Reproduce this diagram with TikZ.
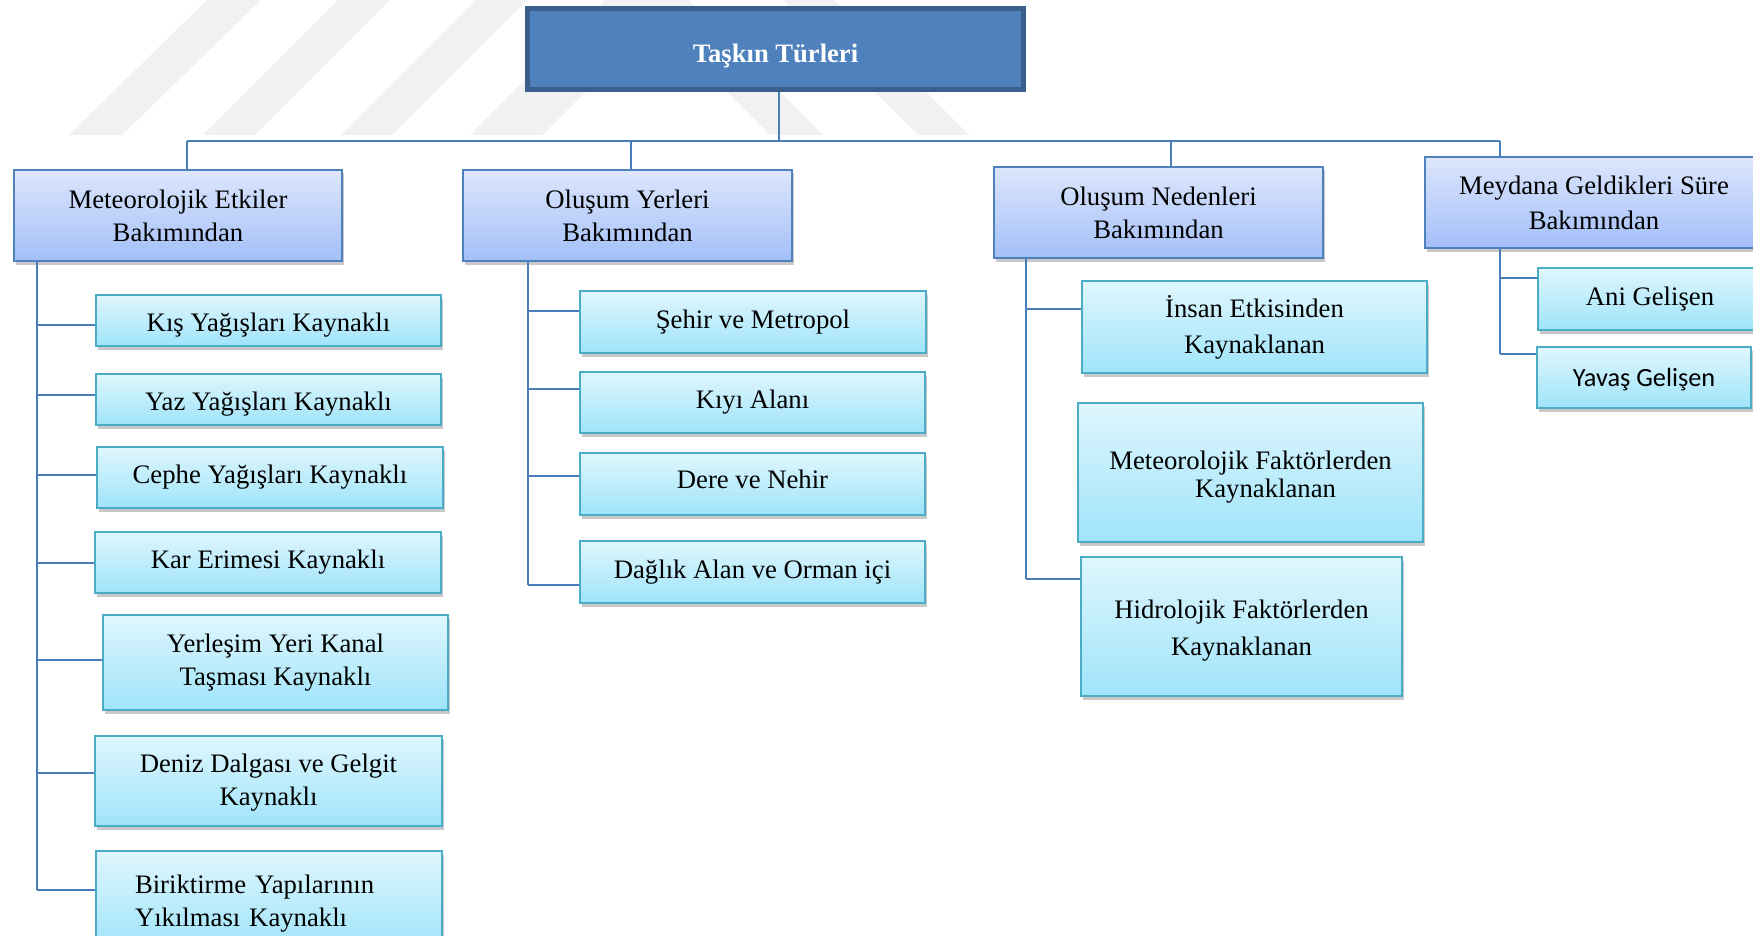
\documentclass[tikz,border=0pt]{standalone}
\usepackage{fontspec}
\setmainfont{Liberation Serif}
\newfontfamily\calibrifont{Carlito}
\usetikzlibrary{shadows}
\definecolor{topfill}{HTML}{4F81BD}
\definecolor{topdraw}{HTML}{3A5F8C}
\definecolor{lAtop}{HTML}{DDE6FC}
\definecolor{lAbot}{HTML}{A3BFF8}
\definecolor{lAdraw}{HTML}{4F81BD}
\definecolor{lBtop}{HTML}{DFF6FD}
\definecolor{lBbot}{HTML}{9FE4FA}
\definecolor{lBdraw}{HTML}{4BACC6}
\definecolor{linec}{HTML}{4A7EBB}
\definecolor{wm}{HTML}{F1F1F1}
\newcommand{\upstrut}[1]{\rule{0pt}{#1}}
\newcommand{\dnstrut}[1]{\rule[-#1]{0pt}{#1}}
\begin{document}
\begin{tikzpicture}[x=1pt,y=-1pt,
 boxbase/.style={rectangle, inner sep=0pt, align=center,
   font=\fontsize{26.7}{33}\selectfont,
   drop shadow={shadow xshift=1.5pt, shadow yshift=-3.5pt, opacity=0.3, fill=black!70}},
 lvA/.style={boxbase, draw=lAdraw, line width=2.2pt, top color=lAtop, bottom color=lAbot},
 lvB/.style={boxbase, draw=lBdraw, line width=2.2pt, top color=lBtop, bottom color=lBbot},
 titlebox/.style={rectangle, inner sep=0pt, draw=topdraw, line width=5pt, fill=topfill, text=white,
   font=\fontsize{26.6}{33}\selectfont\bfseries},
 conn/.style={draw=linec, line width=2pt},
 wmark/.style={fill=wm, draw=none}]
\path[use as bounding box] (0,0) rectangle (1753,936);
\clip (0,0) rectangle (1753,936);
\fill[white] (0,0) rectangle (1753,936);

% watermark stripes
\fill[wmark] (69,135) -- (122,135) -- (261,0) -- (207,0) -- cycle;
\fill[wmark] (203,135) -- (255,135) -- (390,0) -- (338,0) -- cycle;
\fill[wmark] (341,135) -- (392,135) -- (527,0) -- (476,0) -- cycle;
\fill[wmark] (470,135) -- (542,135) -- (677,0) -- (605,0) -- cycle;
\fill[wmark] (770,135) -- (823,135) -- (688,0) -- (635,0) -- cycle;
\fill[wmark] (918,135) -- (969,135) -- (834,0) -- (783,0) -- cycle;

% title
\node[titlebox, minimum width=496pt, minimum height=81pt] (top) at (775.5,49) {\upstrut{33pt}Taşkın Türleri};

% level 1
\node[lvA, minimum width=328pt, minimum height=91pt] (m1) at (178,215.5) {Meteorolojik Etkiler\\Bakımından};
\node[lvA, minimum width=329pt, minimum height=91pt] (m2) at (627.5,215.5) {Oluşum Yerleri\\Bakımından};
\node[lvA, minimum width=329pt, minimum height=91pt] (m3) at (1158.5,212.5) {Oluşum Nedenleri\\Bakımından};
\node[lvA, minimum width=338pt, minimum height=91pt, font=\fontsize{26.7}{35}\selectfont] (m4) at (1594,202.5) {Meydana Geldikleri Süre\\Bakımından};

% column 1
\node[lvB, minimum width=345pt, minimum height=51pt] (k1) at (268.5,320.5) {\upstrut{27pt}Kış Yağışları Kaynaklı};
\node[lvB, minimum width=345pt, minimum height=51pt] (k2) at (268.5,399.5) {\upstrut{27pt}Yaz Yağışları Kaynaklı};
\node[lvB, minimum width=346pt, minimum height=61pt] (k3) at (270,477.5) {Cephe Yağışları Kaynaklı};
\node[lvB, minimum width=346pt, minimum height=61pt] (k4) at (268,562.5) {Kar Erimesi Kaynaklı};
\node[lvB, minimum width=345pt, minimum height=95pt, font=\fontsize{26.7}{33.5}\selectfont] (k5) at (275.5,662.5) {Yerleşim Yeri Kanal\\Taşması Kaynaklı};
\node[lvB, minimum width=347pt, minimum height=90pt, font=\fontsize{26.7}{33.5}\selectfont] (k6) at (268.5,781) {\upstrut{22pt}Deniz Dalgası ve Gelgit\\Kaynaklı};
\node[lvB, minimum width=346pt, minimum height=99pt, text width=268pt, align=left] (k7) at (269,900.5) {\upstrut{24pt}Biriktirme Yapılarının\\Yıkılması Kaynaklı};

% column 2
\node[lvB, minimum width=346pt, minimum height=62pt] (o1) at (753,322) {Şehir ve Metropol};
\node[lvB, minimum width=345pt, minimum height=61pt] (o2) at (752.5,402.5) {Kıyı Alanı};
\node[lvB, minimum width=345pt, minimum height=62pt] (o3) at (752.5,484) {Dere ve Nehir\dnstrut{10pt}};
\node[lvB, minimum width=345pt, minimum height=62pt] (o4) at (752.5,572) {Dağlık Alan ve Orman içi};

% column 3
\node[lvB, minimum width=345pt, minimum height=92pt, font=\fontsize{26.7}{36}\selectfont] (n1) at (1254.5,327) {İnsan Etkisinden\\Kaynaklanan};
\node[lvB, minimum width=345pt, minimum height=139pt, font=\fontsize{26.7}{28}\selectfont] (n2) at (1250.5,472.5) {\upstrut{28pt}Meteorolojik Faktörlerden\\\hspace*{30pt}Kaynaklanan};
\node[lvB, minimum width=321pt, minimum height=139pt, font=\fontsize{26.7}{37}\selectfont] (n3) at (1241.5,626.5) {\upstrut{26pt}Hidrolojik Faktörlerden\\Kaynaklanan};

% column 4
\node[lvB, minimum width=224pt, minimum height=62pt] (a1) at (1650,299) {Ani Gelişen};
\node[lvB, minimum width=214pt, minimum height=61pt, font=\calibrifont\fontsize{26.3}{32}\selectfont] (a2) at (1644,377.5) {\upstrut{23pt}Yavaş Gelişen};

% main bus
\coordinate (hub) at (779,141);
\coordinate (bl) at (187,141);
\coordinate (br) at (1500,141);
\coordinate (d2) at (631,141);
\coordinate (d3) at (1171,141);
\draw[conn] (hub |- top.south) -- (hub);
\draw[conn] (bl) -- (br);
\draw[conn] (bl) -- (bl |- m1.north);
\draw[conn] (d2) -- (d2 |- m2.north);
\draw[conn] (d3) -- (d3 |- m3.north);
\draw[conn] (br) -- (br |- m4.north);

% column 1 bus
\coordinate (t1) at (37,325);
\coordinate (t2) at (37,395);
\coordinate (t3) at (37,475);
\coordinate (t4) at (37,563);
\coordinate (t5) at (37,660);
\coordinate (t6) at (37,773);
\coordinate (t7) at (37,890);
\draw[conn] (t7 |- m1.south) -- (t7);
\draw[conn] (t1) -- (t1 -| k1.west);
\draw[conn] (t2) -- (t2 -| k2.west);
\draw[conn] (t3) -- (t3 -| k3.west);
\draw[conn] (t4) -- (t4 -| k4.west);
\draw[conn] (t5) -- (t5 -| k5.west);
\draw[conn] (t6) -- (t6 -| k6.west);
\draw[conn] (t7) -- (t7 -| k7.west);

% column 2 bus
\coordinate (u1) at (528,311);
\coordinate (u2) at (528,389);
\coordinate (u3) at (528,476);
\coordinate (u4) at (528,585);
\draw[conn] (u4 |- m2.south) -- (u4);
\draw[conn] (u1) -- (u1 -| o1.west);
\draw[conn] (u2) -- (u2 -| o2.west);
\draw[conn] (u3) -- (u3 -| o3.west);
\draw[conn] (u4) -- (u4 -| o4.west);

% column 3 bus
\coordinate (v1) at (1026,309);
\coordinate (v3) at (1026,579);
\draw[conn] (v3 |- m3.south) -- (v3);
\draw[conn] (v1) -- (v1 -| n1.west);
\draw[conn] (v3) -- (v3 -| n3.west);

% column 4 bus
\coordinate (w1) at (1500,278);
\coordinate (w2) at (1500,354);
\draw[conn] (w2 |- m4.south) -- (w2);
\draw[conn] (w1) -- (w1 -| a1.west);
\draw[conn] (w2) -- (w2 -| a2.west);
\end{tikzpicture}
\end{document}
